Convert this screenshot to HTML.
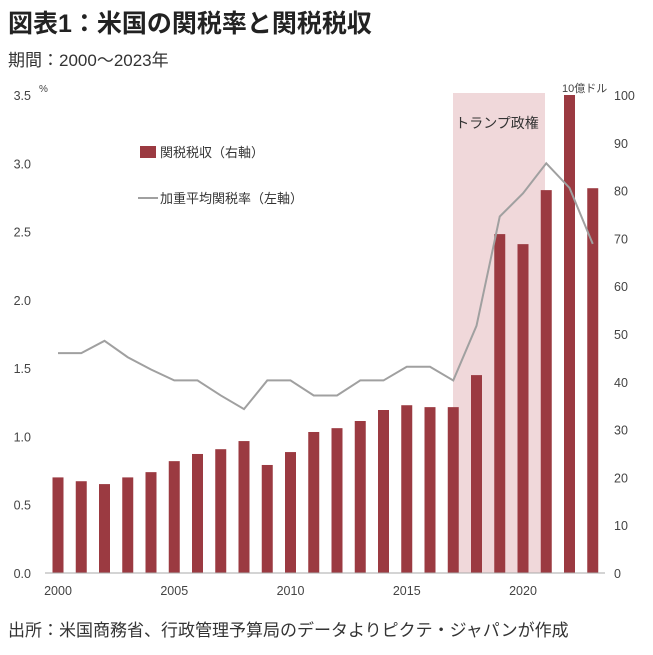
<!DOCTYPE html>
<html><head><meta charset="utf-8"><style>
body{margin:0;background:#fff;width:653px;height:650px;overflow:hidden;font-family:"Liberation Sans","Noto Sans CJK JP",sans-serif;}
</style></head><body>
<svg width="653" height="650" xmlns="http://www.w3.org/2000/svg" style="font-family:'Liberation Sans','Noto Sans CJK JP',sans-serif">
<text x="8" y="32" font-size="25" font-weight="bold" fill="#222">図表1：米国の関税率と関税税収</text>
<text x="8" y="66" font-size="17" fill="#333">期間：2000～2023年</text>
<rect x="453" y="93" width="92" height="480" fill="#f0d8da"/>
<text x="497" y="128" font-size="14" text-anchor="middle" fill="#333">トランプ政権</text>
<g id="bars"></g>
<polyline id="line" fill="none" stroke="#a0a0a0" stroke-width="2"/>
<line x1="45" y1="573" x2="605" y2="573" stroke="#aaa" stroke-width="1"/>
<g id="ticks" font-size="12.5" fill="#444"></g>
<text x="39" y="92" font-size="10" fill="#444">%</text>
<text x="562" y="92" font-size="11" fill="#444">10億ドル</text>
<rect x="140" y="146" width="16" height="12" fill="#9b3a41"/>
<text x="160" y="157" font-size="13" fill="#333">関税税収（右軸）</text>
<line x1="138" y1="198" x2="158" y2="198" stroke="#a0a0a0" stroke-width="2"/>
<text x="160" y="203" font-size="13" fill="#333">加重平均関税率（左軸）</text>
<text x="8" y="636" font-size="17" fill="#333">出所：米国商務省、行政管理予算局のデータよりピクテ・ジャパンが作成</text>
</svg>
<script>
const years=[2000,2001,2002,2003,2004,2005,2006,2007,2008,2009,2010,2011,2012,2013,2014,2015,2016,2017,2018,2019,2020,2021,2022,2023];
const revenue=[20,19.2,18.6,20,21.1,23.4,24.9,25.9,27.6,22.6,25.3,29.5,30.3,31.8,34.1,35.1,34.7,34.7,41.4,70.9,68.8,80.1,100,80.5];
const rate=[1.61,1.61,1.70,1.58,1.49,1.41,1.41,1.30,1.20,1.41,1.41,1.30,1.30,1.41,1.41,1.51,1.51,1.41,1.81,2.61,2.78,3.0,2.82,2.41];
const leftTicks=["0.0","0.5","1.0","1.5","2.0","2.5","3.0","3.5"];
const rightTicks=[0,10,20,30,40,50,60,70,80,90,100];
const xTicks=[2000,2005,2010,2015,2020];
const NS="http://www.w3.org/2000/svg";
const x=y=>58+(y-2000)*23.25;
const yL=v=>573-v/3.5*478;
const yR=v=>573-v/100*478;
const bars=document.getElementById('bars');
years.forEach((yr,i)=>{const r=document.createElementNS(NS,'rect');
r.setAttribute('x',x(yr)-5.5);r.setAttribute('width',11);
r.setAttribute('y',yR(revenue[i]));r.setAttribute('height',573-yR(revenue[i]));r.setAttribute('fill','#9b3a41');


bars.appendChild(r);});
document.getElementById('line').setAttribute('points',years.map((yr,i)=>x(yr)+','+yL(rate[i])).join(' '));
const t=document.getElementById('ticks');
function txt(s,xx,yy,a,n){const e=document.createElementNS(NS,'text');e.setAttribute('x',xx);e.setAttribute('y',yy);e.setAttribute('text-anchor',a);e.textContent=s;


t.appendChild(e);}
leftTicks.forEach(s=>txt(s,31,yL(parseFloat(s))+5,'end','left-tick-'+s));
rightTicks.forEach(v=>txt(v,614,yR(v)+5,'start','right-tick-'+v));
xTicks.forEach(v=>txt(v,x(v),595,'middle','x-tick-'+v));
</script>
</body></html>
